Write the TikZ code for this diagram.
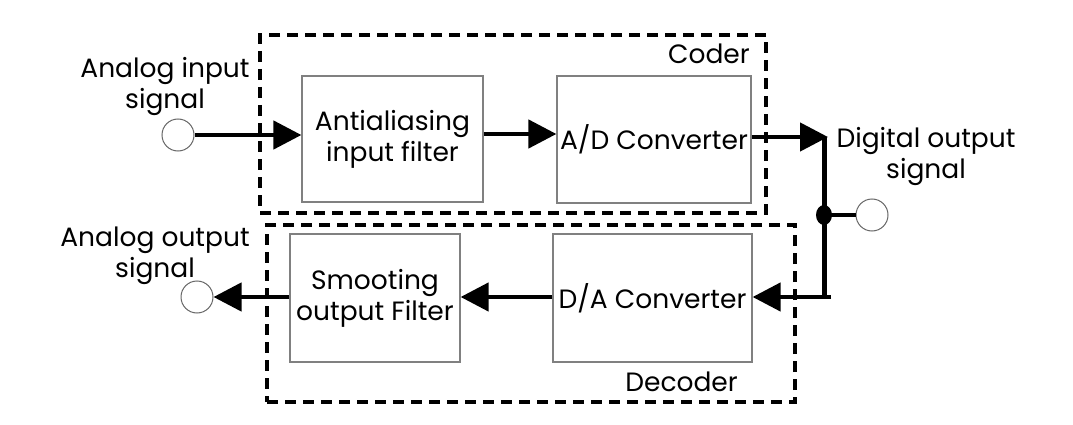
\documentclass[tikz,border=0pt]{standalone}
\usepackage{fontspec}
\setmainfont{Poppins}
\usetikzlibrary{arrows.meta,positioning}
\begin{document}
\begin{tikzpicture}[x=1pt, y=-1pt, font=\fontsize{26.5}{31}\selectfont, >={Triangle[length=28pt,width=28pt]}]
  \tikzstyle{block} = [rectangle, draw=black!50, line width=1.2pt, align=center, inner sep=0pt]
  \tikzstyle{group} = [rectangle, draw, line width=4.5pt, dash pattern=on 11pt off 7pt, inner sep=0pt]
  \tikzstyle{port} = [circle, draw=black!60, line width=1pt, fill=white, minimum size=32pt, inner sep=0pt]
  \tikzstyle{line} = [draw, line width=4.5pt]
  \tikzstyle{txt} = [align=center, inner sep=0pt]
  \useasboundingbox (0,0) rectangle (1073,425);

  \node [group, minimum width=506pt, minimum height=178pt] (coder) at (513,124) {};
  \node [group, minimum width=528pt, minimum height=177pt] (decoder) at (531,313.5) {};

  \node [block, minimum width=181pt, minimum height=126pt] (anti) at (392.5,139) {Antialiasing\\input filter};
  \node [block, minimum width=194pt, minimum height=127pt] (ad) at (654,139.5) {A/D Converter};
  \node [block, minimum width=170pt, minimum height=128pt] (smooth) at (375,298) {Smooting\\output Filter};
  \node [block, minimum width=199pt, minimum height=128pt] (da) at (652.5,298) {D/A Converter};

  \node [port] (ain) at (178,135) {};
  \node [port] (dout) at (872,215) {};
  \node [port] (aout) at (197,297) {};

  \node [txt] (ainlbl) at (165,86) {Analog input\\signal};
  \node [txt, text depth=0pt] (doutlbl) at (926,153) {Digital output\\signal};
  \node [txt] (aoutlbl) at (155,256) {Analog output\\signal};
  \node [txt, anchor=north east] (coderlbl) at (750,44) {Coder};
  \node [txt, anchor=south east] (decoderlbl) at (738,392) {Decoder};

  \coordinate (dtop) at (824,137);
  \coordinate (dtip) at (828,137);
  \coordinate (dbot) at (824,297);
  \coordinate (dend) at (831,297);
  \coordinate (junc) at (824,215);

  \path [line, ->] (ain.east) -- (ain.east -| anti.west);
  \path [line, ->] (anti.east |- 0,134) -- (ad.west |- 0,134);
  \path [line, ->] (ad.east |- dtop) -- (dtip);
  \path [line, line width=5pt] (dtop) -- (dbot);
  \path [line, ->] (dend) -- (da.east |- dend);
  \path [line] (junc) -- (dout.west);
  \fill (junc) ellipse (8pt and 10pt);
  \path [line, ->] (da.west |- 0,297) -- (smooth.east |- 0,297);
  \path [line, ->] (smooth.west |- aout) -- (aout.east);
\end{tikzpicture}
\end{document}
